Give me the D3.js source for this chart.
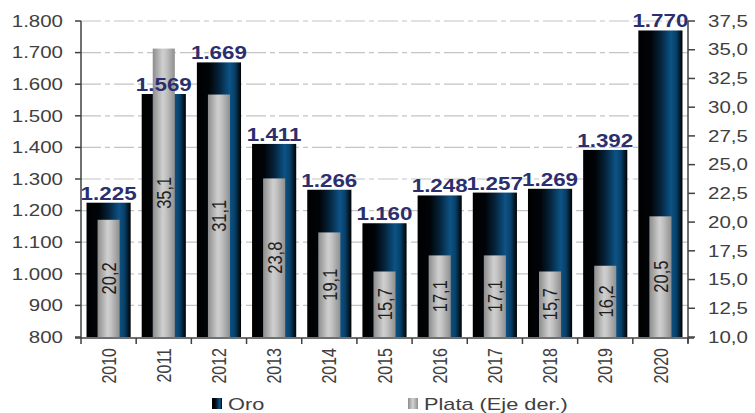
<!DOCTYPE html>
<html>
<head>
<meta charset="utf-8">
<script src="https://cdn.jsdelivr.net/npm/d3@7"></script>
<style>
  body { margin: 0; background: #fff; }
  svg text { font-family: "Liberation Sans", Arial, sans-serif; }
</style>
</head>
<body>
<div id="chart"></div>
<script>
// data
let years = ["2010","2011","2012","2013","2014","2015","2016","2017","2018","2019","2020"];
let oro = [1225, 1569, 1669, 1411, 1266, 1160, 1248, 1257, 1269, 1392, 1770];
let plata = [20.2, 35.1, 31.1, 23.8, 19.1, 15.7, 17.1, 17.1, 15.7, 16.2, 20.5];
let leftTicks = [800, 900, 1000, 1100, 1200, 1300, 1400, 1500, 1600, 1700, 1800];
let rightTicks = [10, 12.5, 15, 17.5, 20, 22.5, 25, 27.5, 30, 32.5, 35, 37.5];
let legendNames = ["Oro", "Plata (Eje der.)"];

let width = 755, height = 413;
let sx = 1.28; // text in the picture is stretched sideways
let plotL = 81, plotR = 688, plotT = 21, plotB = 337;

let es = d3.formatLocale({decimal: ",", thousands: ".", grouping: [3], currency: ["", ""]});
let fmtL = es.format(",.0f");
let fmtR = es.format(".1f");

let svg = d3.select("#chart").append("svg")
  .attr("width", width).attr("height", height);

let defs = svg.append("defs");
let gOro = defs.append("linearGradient").attr("id", "gOro");
[[0, "#000000"], [0.28, "#010408"], [0.5, "#05233b"], [0.74, "#0c5386"], [0.86, "#084068"], [1, "#000000"]]
  .forEach(s => gOro.append("stop").attr("offset", s[0]).attr("stop-color", s[1]));
let gPlata = defs.append("linearGradient").attr("id", "gPlata");
[[0, "#8c8c8c"], [0.45, "#cfcfcf"], [0.6, "#c4c4c4"], [1, "#8f8f8f"]]
  .forEach(s => gPlata.append("stop").attr("offset", s[0]).attr("stop-color", s[1]));

let x = d3.scaleBand().domain(years).range([plotL, plotR]).paddingInner(0.2).paddingOuter(0.1);
let yL = d3.scaleLinear().domain([800, 1800]).range([plotB, plotT]);
let yR = d3.scaleLinear().domain([10, 37.5]).range([plotB, plotT]);

// grid
svg.append("g").selectAll("line").data(leftTicks.slice(1)).enter().append("line")
  .attr("x1", plotL).attr("x2", plotR)
  .attr("y1", d => yL(d)).attr("y2", d => yL(d))
  .attr("stroke", "#c4c4c4").attr("stroke-width", 1.2)
  .attr("stroke-dasharray", "20,4,5,4");

// oro bars
svg.append("g").selectAll("rect").data(oro).enter().append("rect")
  .attr("x", (d, i) => x(years[i]))
  .attr("width", x.bandwidth())
  .attr("y", d => yL(d))
  .attr("height", d => plotB - yL(d))
  .attr("fill", "url(#gOro)");

// plata bars
let pw = x.bandwidth() * 0.5;
svg.append("g").selectAll("rect").data(plata).enter().append("rect")
  .attr("x", (d, i) => x(years[i]) + (x.bandwidth() - pw) / 2)
  .attr("width", pw)
  .attr("y", d => yR(d))
  .attr("height", d => plotB - yR(d))
  .attr("fill", "url(#gPlata)");

// labels oro
svg.append("g").selectAll("text").data(oro).enter().append("text")
  .attr("transform", (d, i) => `translate(${x(years[i]) + x.bandwidth() / 2},${yL(d) - 3}) scale(${sx},1)`)
  .attr("text-anchor", "middle")
  .attr("font-size", 17.5).attr("font-weight", "bold")
  .attr("fill", "#2b2f6e")
  .text(d => fmtL(d));

// labels plata
svg.append("g").selectAll("text").data(plata).enter().append("text")
  .attr("transform", (d, i) => `translate(${x(years[i]) + x.bandwidth() / 2},${(yR(d) + plotB) / 2}) scale(${sx},1) rotate(-90)`)
  .attr("text-anchor", "middle").attr("dy", "0.35em")
  .attr("font-size", 16.5)
  .attr("fill", "#1e1e1e")
  .text(d => fmtR(d));

// axes
let axisColor = "#404040";
let gl = svg.append("g");
gl.append("line").attr("x1", plotL).attr("x2", plotL).attr("y1", plotT).attr("y2", plotB + 1)
  .attr("stroke", axisColor).attr("stroke-width", 1.5);
gl.selectAll(".t").data(leftTicks).enter().append("line")
  .attr("x1", plotL - 6).attr("x2", plotL)
  .attr("y1", d => yL(d)).attr("y2", d => yL(d))
  .attr("stroke", axisColor).attr("stroke-width", 1.5);
gl.selectAll("text").data(leftTicks).enter().append("text")
  .attr("transform", d => `translate(63,${yL(d)}) scale(${sx},1)`)
  .attr("text-anchor", "end").attr("dy", "0.36em")
  .attr("font-size", 16).attr("fill", axisColor)
  .text(d => fmtL(d));

let gr = svg.append("g");
gr.append("line").attr("x1", plotR).attr("x2", plotR).attr("y1", plotT).attr("y2", plotB + 6)
  .attr("stroke", axisColor).attr("stroke-width", 1.5);
gr.selectAll(".t").data(rightTicks).enter().append("line")
  .attr("x1", plotR).attr("x2", plotR + 7)
  .attr("y1", d => yR(d)).attr("y2", d => yR(d))
  .attr("stroke", axisColor).attr("stroke-width", 1.5);
gr.selectAll("text").data(rightTicks).enter().append("text")
  .attr("transform", d => `translate(708,${yR(d)}) scale(${sx},1)`)
  .attr("dy", "0.36em")
  .attr("font-size", 16).attr("fill", axisColor)
  .text(d => fmtR(d));

let gx = svg.append("g");
gx.append("line").attr("x1", plotL - 6).attr("x2", plotR + 6).attr("y1", plotB + 1).attr("y2", plotB + 1)
  .attr("stroke", axisColor).attr("stroke-width", 1.5);
let bounds = years.map(y => x(y) - x.step() * x.paddingInner() / 2).concat([plotR]);
gx.selectAll(".t").data(bounds).enter().append("line")
  .attr("x1", d => d).attr("x2", d => d)
  .attr("y1", plotB + 1).attr("y2", plotB + 7)
  .attr("stroke", axisColor).attr("stroke-width", 1.5);
gx.selectAll("text").data(years).enter().append("text")
  .attr("transform", d => `translate(${x(d) + x.bandwidth() / 2},348) scale(${sx},1) rotate(-90)`)
  .attr("text-anchor", "end").attr("dy", "0.35em")
  .attr("font-size", 16).attr("fill", axisColor)
  .text(d => d);

// legend
let legX = [212, 408];
let leg = svg.append("g").selectAll("g").data(legendNames).enter().append("g")
  .attr("transform", (d, i) => `translate(${legX[i]},398)`);
leg.append("rect").attr("x", 0).attr("y", 0).attr("width", 10).attr("height", 11)
  .attr("fill", (d, i) => i == 0 ? "url(#gOro)" : "url(#gPlata)");
leg.append("text")
  .attr("transform", `translate(16,6) scale(${sx},1)`)
  .attr("dy", "0.36em")
  .attr("font-size", 17).attr("fill", axisColor)
  .text(d => d);
</script>
</body>
</html>
